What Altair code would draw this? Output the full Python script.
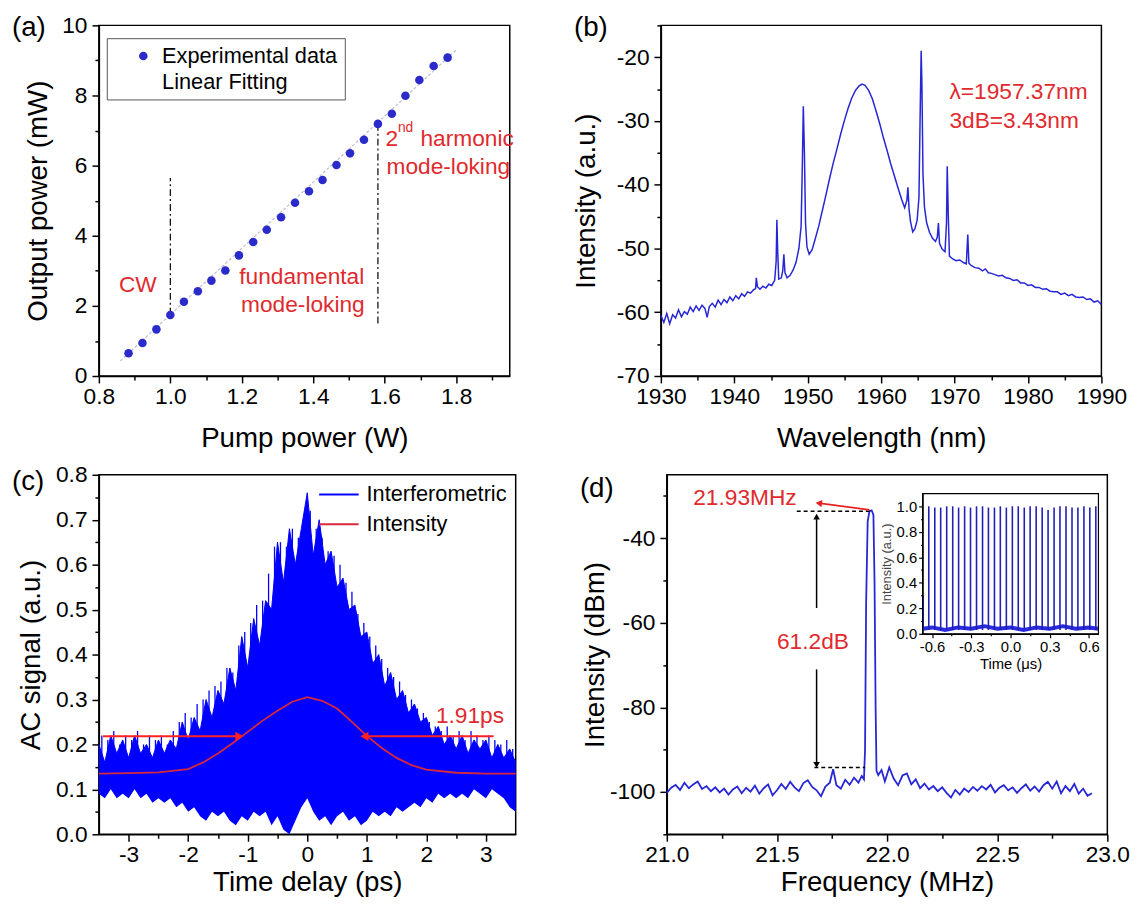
import altair as alt
import pandas as pd

FONT = "Liberation Sans"
W_A, W_C, W_R = 416, 422, 446
H1, H2 = 355, 364
TICK_FS = 23
TITLE_FS = 28
NOTE_FS = 23
BLUE = "#2626d6"
DOT = "#2b2bcc"
RED = "#e02a2e"

# ---------------- (a) output power vs pump power ----------------
pump_W = [0.883, 0.922, 0.961, 1.000, 1.038, 1.077, 1.115, 1.154, 1.192, 1.232, 1.270, 1.310,
          1.349, 1.388, 1.426, 1.465, 1.503, 1.542, 1.581, 1.620, 1.658, 1.697, 1.737, 1.776]
out_mW = [0.65, 0.94, 1.33, 1.74, 2.12, 2.42, 2.72, 3.01, 3.44, 3.82, 4.17, 4.53,
          4.94, 5.27, 5.59, 6.02, 6.35, 6.74, 7.19, 7.48, 7.99, 8.44, 8.84, 9.08]
fit_pump = [0.86, 1.80]
fit_out = [0.43, 9.30]
regime_pump = [1.000, 1.581]
regime_low = [1.75, 1.50]
regime_high = [5.65, 7.15]
a_legend = ["Experimental data", "Linear Fitting"]
a_notes = ["CW", "fundamental", "mode-loking", "2", "harmonic", "mode-loking"]
a_note_x = [0.856, 1.193, 1.198, 1.602, 1.700, 1.605]
a_note_y = [2.58, 2.81, 2.02, 6.77, 6.77, 5.96]
a_sup = ["nd"]
a_sup_x = [1.637]
a_sup_y = [7.07]
a_x_domain = [0.8, 1.95]
a_y_domain = [0, 10]
a_x_major = [0.8, 1.0, 1.2, 1.4, 1.6, 1.8]
a_x_labels = ["0.8", "1.0", "1.2", "1.4", "1.6", "1.8"]
a_x_minor = [0.9, 1.1, 1.3, 1.5, 1.7, 1.9]
a_y_major = [0, 2, 4, 6, 8, 10]
a_y_labels = ["0", "2", "4", "6", "8", "10"]
a_y_minor = [1, 3, 5, 7, 9]

# ---------------- (b) optical spectrum ----------------
b_wl = [1930.0, 1930.4, 1930.8, 1931.2, 1931.6, 1932.0, 1932.4, 1932.8, 1933.2, 1933.6,
        1934.0, 1934.4, 1934.8, 1935.2, 1935.6, 1936.0, 1936.3, 1936.6, 1937.0, 1937.4,
        1937.8, 1938.2, 1938.6, 1939.0, 1939.4, 1939.8, 1940.2, 1940.6, 1941.0, 1941.4,
        1941.8, 1942.2, 1942.6, 1942.9, 1943.0, 1943.15, 1943.5, 1943.9, 1944.3, 1944.7,
        1945.1, 1945.5, 1945.7, 1945.8, 1945.9, 1946.05, 1946.4, 1946.6, 1946.75, 1946.9,
        1947.2, 1947.6, 1948.0, 1948.4, 1948.8, 1949.1, 1949.25, 1949.4, 1949.55, 1949.7,
        1949.9, 1950.2, 1950.6, 1951.0, 1951.5, 1952.0, 1952.5, 1953.0, 1953.5, 1954.0,
        1954.5, 1955.0, 1955.5, 1956.0, 1956.5, 1957.0, 1957.4, 1957.8, 1958.3, 1958.8,
        1959.3, 1959.8, 1960.3, 1960.8, 1961.3, 1961.8, 1962.3, 1962.8, 1963.2, 1963.5,
        1963.65, 1963.8, 1964.0, 1964.3, 1964.6, 1964.9, 1965.15, 1965.3, 1965.45, 1965.55,
        1965.7, 1965.9, 1966.2, 1966.6, 1967.0, 1967.4, 1967.65, 1967.8, 1967.95, 1968.3,
        1968.7, 1968.9, 1969.0, 1969.15, 1969.3, 1969.7, 1970.2, 1970.7, 1971.2, 1971.6,
        1971.8, 1971.95, 1972.3, 1972.8, 1973.3, 1973.8, 1974.2, 1974.6, 1975.0, 1975.5,
        1976.0, 1976.5, 1977.0, 1977.5, 1978.0, 1978.5, 1979.0, 1979.5, 1980.0, 1980.5,
        1981.0, 1981.5, 1982.0, 1982.5, 1983.0, 1983.5, 1984.0, 1984.5, 1985.0, 1985.5,
        1986.0, 1986.5, 1987.0, 1987.5, 1988.0, 1988.5, 1989.0, 1989.5, 1990.0]
b_int = [-60.5, -61.6, -60.2, -61.8, -60.4, -60.9, -59.6, -60.7, -59.9, -60.3,
         -59.2, -59.9, -59.0, -59.7, -58.9, -59.4, -60.8, -59.1, -58.6, -59.2,
         -58.1, -58.8, -58.0, -58.5, -57.6, -58.2, -57.4, -57.9, -57.1, -57.5,
         -56.8, -57.0, -56.5, -56.3, -54.6, -56.0, -56.4, -55.9, -56.2, -55.6,
         -55.8, -55.0, -52.0, -45.5, -50.0, -54.8, -54.6, -53.5, -50.9, -53.8,
         -54.6, -54.2, -53.4, -52.2, -50.0, -46.5, -38.0, -27.7, -35.0, -46.0,
         -49.8, -50.9, -50.2, -48.6, -46.5, -44.0, -41.5, -38.9, -36.5, -34.3,
         -32.0, -29.9, -28.0, -26.4, -25.2, -24.5, -24.2, -24.4, -25.2, -26.5,
         -28.4, -30.4, -32.6, -34.6, -36.7, -38.6, -40.5, -42.3, -43.6, -42.5,
         -40.4, -43.8, -45.8, -47.4, -46.9, -45.6, -42.0, -30.0, -19.0, -24.0,
         -38.4, -43.5, -46.0, -47.5, -48.4, -48.9, -48.2, -46.0, -49.2, -50.1,
         -50.5, -46.0, -37.1, -45.0, -51.2, -51.6, -51.9, -51.8, -52.2, -52.4,
         -47.8, -52.3, -52.7, -53.0, -53.1, -53.5, -53.2, -53.8, -53.9, -54.1,
         -54.3, -54.2, -54.6, -54.7, -55.0, -54.9, -55.4, -55.4, -55.8, -55.7,
         -56.1, -56.1, -56.4, -56.3, -56.7, -56.8, -56.8, -57.2, -57.0, -57.4,
         -57.2, -57.6, -57.7, -57.6, -58.0, -57.9, -58.4, -58.2, -58.8]
b_notes = ["\u03bb=1957.37nm", "3dB=3.43nm"]
b_note_x = [1969.3, 1969.3]
b_note_y = [-25.4, -30.0]
b_x_domain = [1930, 1990]
b_y_domain = [-70, -15]
b_x_major = [1930, 1940, 1950, 1960, 1970, 1980, 1990]
b_x_labels = ["1930", "1940", "1950", "1960", "1970", "1980", "1990"]
b_x_minor = [1935, 1945, 1955, 1965, 1975, 1985]
b_y_major = [-70, -60, -50, -40, -30, -20]
b_y_labels = ["-70", "-60", "-50", "-40", "-30", "-20"]
b_y_minor = [-65, -55, -45, -35, -25, -15]

# ---------------- (c) autocorrelation ----------------
c_t = [-3.5, -3.4, -3.3, -3.2, -3.1, -3.0, -2.9, -2.8, -2.7, -2.6,
       -2.5, -2.4, -2.3, -2.2, -2.1, -2.0, -1.9, -1.8, -1.7, -1.6,
       -1.5, -1.4, -1.3, -1.2, -1.1, -1.0, -0.9, -0.8, -0.7, -0.6,
       -0.5, -0.4, -0.3, -0.2, -0.1, 0.0, 0.1, 0.2, 0.3, 0.4,
       0.5, 0.6, 0.7, 0.8, 0.9, 1.0, 1.1, 1.2, 1.3, 1.4,
       1.5, 1.6, 1.7, 1.8, 1.9, 2.0, 2.1, 2.2, 2.3, 2.4,
       2.5, 2.6, 2.7, 2.8, 2.9, 3.0, 3.1, 3.2, 3.3, 3.4,
       3.5]
c_upper = [0.20, 0.16, 0.22, 0.18, 0.21, 0.17, 0.22, 0.18, 0.20, 0.17,
           0.21, 0.18, 0.21, 0.19, 0.25, 0.21, 0.26, 0.23, 0.30, 0.26,
           0.32, 0.29, 0.37, 0.32, 0.44, 0.37, 0.48, 0.42, 0.52, 0.50,
           0.65, 0.56, 0.68, 0.60, 0.68, 0.76, 0.62, 0.70, 0.60, 0.63,
           0.55, 0.57, 0.50, 0.51, 0.44, 0.45, 0.38, 0.40, 0.33, 0.36,
           0.30, 0.32, 0.27, 0.29, 0.25, 0.26, 0.22, 0.24, 0.20, 0.22,
           0.19, 0.22, 0.18, 0.21, 0.19, 0.21, 0.17, 0.20, 0.17, 0.19,
           0.16]
c_lower = [0.09, 0.08, 0.10, 0.08, 0.09, 0.08, 0.10, 0.08, 0.09, 0.07,
           0.08, 0.07, 0.08, 0.06, 0.07, 0.05, 0.06, 0.04, 0.03, 0.05,
           0.04, 0.05, 0.03, 0.02, 0.04, 0.03, 0.05, 0.04, 0.05, 0.02,
           0.04, 0.01, 0.00, 0.03, 0.06, 0.08, 0.05, 0.03, 0.04, 0.02,
           0.04, 0.05, 0.03, 0.04, 0.02, 0.03, 0.05, 0.04, 0.05, 0.04,
           0.06, 0.05, 0.06, 0.07, 0.06, 0.08, 0.07, 0.09, 0.08, 0.09,
           0.08, 0.09, 0.08, 0.10, 0.09, 0.08, 0.10, 0.09, 0.08, 0.06,
           0.05]
# narrow fringe spikes standing above the filled envelope
c_spike_t = [-3.45, -3.35, -3.25, -3.15, -3.05, -2.95, -2.85, -2.75, -2.65, -2.55,
             -2.45, -2.35, -2.25, -2.15, -2.05, -1.95, -1.85, -1.75, -1.65, -1.55,
             -1.45, -1.35, -1.25, -1.15, -1.05, -0.95, -0.85, -0.75, -0.65, -0.55,
             -0.45, -0.35, -0.25, -0.15, -0.05, 0.05, 0.15, 0.25, 0.35, 0.45,
             0.55, 0.65, 0.75, 0.85, 0.95, 1.05, 1.15, 1.25, 1.35, 1.45,
             1.55, 1.65, 1.75, 1.85, 1.95, 2.05, 2.15, 2.25, 2.35, 2.45,
             2.55, 2.65, 2.75, 2.85, 2.95, 3.05, 3.15, 3.25, 3.35, 3.45]
c_spike_v = [0.22, 0.21, 0.23, 0.20, 0.22, 0.21, 0.23, 0.20, 0.22, 0.21,
             0.22, 0.20, 0.23, 0.25, 0.27, 0.26, 0.29, 0.30, 0.32, 0.33,
             0.34, 0.37, 0.36, 0.42, 0.45, 0.47, 0.51, 0.52, 0.58, 0.64,
             0.65, 0.64, 0.68, 0.66, 0.70, 0.72, 0.68, 0.66, 0.63, 0.62,
             0.60, 0.56, 0.54, 0.49, 0.47, 0.44, 0.42, 0.39, 0.37, 0.35,
             0.34, 0.31, 0.30, 0.28, 0.27, 0.25, 0.24, 0.23, 0.24, 0.22,
             0.23, 0.21, 0.23, 0.22, 0.21, 0.22, 0.21, 0.20, 0.21, 0.19]
c_int_t = [-3.5, -3.0, -2.5, -2.0, -1.75, -1.5, -1.25, -1.0, -0.75, -0.5, -0.25, 0.0,
           0.25, 0.5, 0.75, 1.0, 1.25, 1.5, 1.75, 2.0, 2.5, 3.0, 3.5]
c_int_v = [0.135, 0.136, 0.138, 0.145, 0.160, 0.180, 0.203, 0.228, 0.253, 0.275, 0.295, 0.305,
           0.297, 0.280, 0.250, 0.219, 0.192, 0.170, 0.154, 0.144, 0.137, 0.135, 0.135]
c_legend = ["Interferometric", "Intensity"]
c_arrow_from = [-3.43, 3.13]
c_arrow_to = [-1.20, 1.02]
c_arrow_level = [0.218, 0.218]
c_head_x = [-1.14, 0.96]
c_head_shape = ["triangle-right", "triangle-left"]
c_notes = ["1.91ps"]
c_note_x = [2.16]
c_note_y = [0.262]
c_x_domain = [-3.5, 3.5]
c_y_domain = [0, 0.8]
c_x_major = [-3, -2, -1, 0, 1, 2, 3]
c_x_labels = ["-3", "-2", "-1", "0", "1", "2", "3"]
c_x_minor = [-2.5, -1.5, -0.5, 0.5, 1.5, 2.5]
c_y_major = [0.0, 0.1, 0.2, 0.3, 0.4, 0.5, 0.6, 0.7, 0.8]
c_y_labels = ["0.0", "0.1", "0.2", "0.3", "0.4", "0.5", "0.6", "0.7", "0.8"]
c_y_minor = [0.05, 0.15, 0.25, 0.35, 0.45, 0.55, 0.65, 0.75]

# ---------------- (d) RF spectrum ----------------
d_f = [21.00, 21.02, 21.04, 21.06, 21.08, 21.10, 21.12, 21.14, 21.16, 21.18,
       21.20, 21.22, 21.24, 21.26, 21.28, 21.30, 21.32, 21.34, 21.36, 21.38,
       21.40, 21.42, 21.44, 21.46, 21.48, 21.50, 21.52, 21.54, 21.56, 21.58,
       21.60, 21.62, 21.64, 21.66, 21.68, 21.70, 21.72, 21.74, 21.755, 21.77,
       21.79, 21.81, 21.83, 21.85, 21.87, 21.885, 21.895, 21.900, 21.905, 21.912,
       21.920, 21.930, 21.938, 21.943, 21.948, 21.952, 21.96, 21.975, 21.99, 22.01,
       22.03, 22.05, 22.07, 22.09, 22.11, 22.13, 22.15, 22.17, 22.19, 22.21,
       22.23, 22.25, 22.27, 22.29, 22.31, 22.33, 22.35, 22.37, 22.39, 22.41,
       22.43, 22.45, 22.47, 22.49, 22.51, 22.53, 22.55, 22.57, 22.59, 22.61,
       22.63, 22.65, 22.67, 22.69, 22.71, 22.73, 22.75, 22.77, 22.79, 22.81,
       22.83, 22.85, 22.87, 22.89, 22.91, 22.93]
d_p = [-100.2, -99.0, -98.3, -99.5, -97.8, -99.1, -98.2, -97.5, -99.3, -98.6,
       -99.8, -98.9, -100.1, -99.2, -100.6, -99.4, -98.7, -100.3, -99.0, -99.9,
       -98.5, -100.4, -99.1, -98.2, -100.8, -99.6, -98.1, -99.3, -97.6, -98.9,
       -99.8, -97.9, -97.2, -98.8, -99.6, -101.0, -98.7, -97.8, -94.6, -98.4,
       -99.2, -97.1, -98.3, -96.6, -97.8, -96.2, -97.0, -90.0, -55.0, -36.0,
       -33.6, -33.4, -34.5, -50.0, -80.0, -95.0, -96.0, -94.8, -97.5, -94.2,
       -96.8, -98.4, -96.1, -95.6, -98.2, -97.0, -99.1, -98.0, -99.4, -98.6,
       -99.8, -98.9, -100.2, -101.3, -99.5, -100.6, -99.2, -100.0, -98.8, -99.7,
       -98.6, -99.4, -98.3, -100.1, -99.0, -98.4, -99.6, -98.9, -100.2, -99.1,
       -98.2, -99.7, -98.7, -99.9, -98.4, -97.6, -99.2, -97.5, -100.3, -98.6,
       -99.8, -98.1, -100.4, -99.2, -100.9, -100.3]
d_dash_from = [21.59, 21.67]
d_dash_to = [21.93, 21.90]
d_dash_level = [-33.6, -94.2]
d_span_x = [21.68, 21.68]
d_span_top = [-35.5, -71.0]
d_span_bottom = [-56.5, -93.0]
d_span_head_y = [-34.9, -93.6]
d_span_head_shape = ["triangle-up", "triangle-down"]
d_peak_arrow = [[21.92, -33.3], [21.69, -31.7]]
d_notes = ["21.93MHz", "61.2dB"]
d_note_x = [21.12, 21.50]
d_note_y = [-30.4, -64.5]
d_x_domain = [21, 23]
d_y_domain = [-110, -25]
d_x_major = [21.0, 21.5, 22.0, 22.5, 23.0]
d_x_labels = ["21.0", "21.5", "22.0", "22.5", "23.0"]
d_x_minor = [21.25, 21.75, 22.25, 22.75]
d_y_major = [-100, -80, -60, -40]
d_y_labels = ["-100", "-80", "-60", "-40"]
d_y_minor = [-110, -90, -70, -50, -30]

# inset: pulse train
inset_pulse_t = [-0.668, -0.625, -0.579, -0.534, -0.488, -0.442, -0.397, -0.351, -0.306, -0.260,
                 -0.214, -0.169, -0.123, -0.078, -0.032, 0.014, 0.059, 0.105, 0.150, 0.196,
                 0.242, 0.287, 0.333, 0.378, 0.424, 0.470, 0.515, 0.561, 0.606, 0.652]
inset_pulse_h = [0.30, 1.00, 0.99, 0.99, 1.00, 1.00, 0.99, 1.00, 0.99, 1.00,
                 1.00, 0.99, 0.99, 1.00, 0.99, 1.00, 1.00, 0.99, 1.00, 1.00,
                 0.99, 0.97, 0.99, 1.00, 1.00, 0.99, 0.99, 1.00, 0.99, 1.00]
inset_base_t = [-0.672, -0.6, -0.5, -0.4, -0.3, -0.2, -0.1, 0.0, 0.1, 0.2, 0.3, 0.4, 0.5, 0.6, 0.672]
inset_base_v = [0.04, 0.05, 0.03, 0.05, 0.04, 0.06, 0.04, 0.05, 0.03, 0.05, 0.04, 0.06, 0.04, 0.05, 0.04]
inset_t_domain = [-0.672, 0.672]
inset_v_domain = [0, 1.1]
inset_x_major = [-0.6, -0.3, 0.0, 0.3, 0.6]
inset_x_labels = ["-0.6", "-0.3", "0.0", "0.3", "0.6"]
inset_x_minor = [-0.45, -0.15, 0.15, 0.45]
inset_y_major = [0.0, 0.2, 0.4, 0.6, 0.8, 1.0]
inset_y_labels = ["0.0", "0.2", "0.4", "0.6", "0.8", "1.0"]
inset_y_minor = [0.1, 0.3, 0.5, 0.7, 0.9]
# inset placement inside panel (d), in pixels of that panel
INSET_X = [259, 437]
INSET_Y = [161, 19]


def axis(title, major, labels, minor, title_pad, orient, label_fs=TICK_FS, title_fs=TITLE_FS,
         big=7, small=4, offset=0, label_pad=5, width=1.5, title_color="black"):
    values = sorted(major + minor)
    expr = "".join(f"datum.value == {v} ? '{l}' : " for v, l in zip(major, labels)) + "''"
    test = " || ".join(f"datum.value == {v}" for v in major)
    return alt.Axis(
        title=title, orient=orient, values=values, labelExpr=expr,
        tickSize={"condition": {"test": test, "value": big}, "value": small},
        tickWidth=width, tickColor="black", domainColor="black", domainWidth=width,
        labelFont=FONT, labelFontSize=label_fs, labelColor="black", labelPadding=label_pad,
        labelFlush=False, labelOverlap=False, grid=False,
        titleFont=FONT, titleFontSize=title_fs, titleFontWeight="normal", titleColor=title_color,
        titlePadding=title_pad, offset=offset)


def qscale(dom, rng=None):
    if rng is None:
        return alt.Scale(domain=dom, nice=False, zero=False)
    return alt.Scale(domain=dom, range=rng, nice=False, zero=False)


def panel_label(txt, dy):
    return alt.Chart(pd.DataFrame({"t": [txt]})).mark_text(
        font=FONT, fontSize=28, align="left", baseline="middle", color="black"
    ).encode(x=alt.value(-88), y=alt.value(dy), text="t:N")


def notes(xs, ys, texts, size=NOTE_FS, color=RED, X=None, Y=None, align="left"):
    df = pd.DataFrame({"x": xs, "y": ys, "t": texts})
    return alt.Chart(df).mark_text(font=FONT, fontSize=size, align=align, baseline="middle",
                                   color=color).encode(x=X, y=Y, text="t:N")


# ---------- panel (a) ----------
XA = alt.X("x:Q", scale=qscale(a_x_domain),
           axis=axis("Pump power (W)", a_x_major, a_x_labels, a_x_minor, 16, "bottom", label_pad=3))
YA = alt.Y("y:Q", scale=qscale(a_y_domain),
           axis=axis("Output power (mW)", a_y_major, a_y_labels, a_y_minor, 9, "left"))

a_fit = alt.Chart(pd.DataFrame({"x": fit_pump, "y": fit_out})).mark_line(
    color="#bcbcd0", strokeWidth=1.2, strokeDash=[3, 2]).encode(x=XA, y=YA)
a_pts = alt.Chart(pd.DataFrame({"x": pump_W, "y": out_mW, "s": [a_legend[0]] * len(pump_W)})).mark_point(
    filled=True, size=75, opacity=1).encode(
    x=XA, y=YA,
    color=alt.Color("s:N", scale=alt.Scale(domain=a_legend, range=[DOT, "#ffffff"]),
                    legend=alt.Legend(title=None, orient="none", legendX=8, legendY=13, padding=7,
                                      strokeColor="#555555", fillColor="white", symbolType="circle",
                                      symbolSize=75, symbolOffset=19, labelOffset=8, labelFont=FONT,
                                      labelFontSize=22, labelColor="black", rowPadding=4,
                                      labelLimit=400, symbolStrokeWidth=0)))
a_reg = alt.Chart(pd.DataFrame({"x": regime_pump, "y": regime_low, "y2": regime_high})).mark_rule(
    color="black", strokeWidth=1.2, strokeDash=[7, 3, 2, 3]).encode(x=XA, y=YA, y2="y2:Q")
a_txt = notes(a_note_x, a_note_y, a_notes, X=XA, Y=YA)
a_sup_txt = notes(a_sup_x, a_sup_y, a_sup, size=14, X=XA, Y=YA)
pa = alt.layer(a_fit, a_reg, a_pts, a_txt, a_sup_txt, panel_label("(a)", 3)).properties(width=W_A, height=H1)

# ---------- panel (b) ----------
XB = alt.X("x:Q", scale=qscale(b_x_domain),
           axis=axis("Wavelength (nm)", b_x_major, b_x_labels, b_x_minor, 16, "bottom", label_pad=3))
YB = alt.Y("y:Q", scale=qscale(b_y_domain),
           axis=axis("Intensity (a.u.)", b_y_major, b_y_labels, b_y_minor, 16, "left"))
b_line = alt.Chart(pd.DataFrame({"x": b_wl, "y": b_int})).mark_line(
    color=BLUE, strokeWidth=1.5).encode(x=XB, y=YB)
b_txt = notes(b_note_x, b_note_y, b_notes, X=XB, Y=YB)
pb = alt.layer(b_line, b_txt, panel_label("(b)", 3)).properties(width=W_R, height=H1)

# ---------- panel (c) ----------
XC = alt.X("x:Q", scale=qscale(c_x_domain),
           axis=axis("Time delay (ps)", c_x_major, c_x_labels, c_x_minor, 2, "bottom", label_pad=3))
YC = alt.Y("y:Q", scale=qscale(c_y_domain),
           axis=axis("AC signal (a.u.)", c_y_major, c_y_labels, c_y_minor, 10, "left"))
c_color = alt.Color("s:N", scale=alt.Scale(domain=c_legend, range=["#0000ff", "#d8283c"]),
                    legend=alt.Legend(title=None, orient="none", legendX=232, legendY=9, padding=0,
                                      symbolType="M-2,0L2,0", symbolSize=400, symbolStrokeWidth=2,
                                      labelOffset=17, labelFont=FONT, labelFontSize=22,
                                      labelColor="black", rowPadding=8, labelLimit=400))
c_df = pd.DataFrame({"x": c_t, "y": c_upper, "lo": c_lower, "s": [c_legend[0]] * len(c_t)})
c_area = alt.Chart(c_df).mark_area(color="#0000ff", opacity=1).encode(x=XC, y=YC, y2="lo:Q")
c_top = alt.Chart(c_df).mark_line(strokeWidth=1).encode(x=XC, y=YC, color=c_color)
c_spk = alt.Chart(pd.DataFrame({"x": c_spike_t, "y": [0.12] * len(c_spike_t), "y2": c_spike_v})).mark_rule(
    color="#0000ff", strokeWidth=1.3).encode(x=XC, y=YC, y2="y2:Q")
c_int = alt.Chart(pd.DataFrame({"x": c_int_t, "y": c_int_v, "s": [c_legend[1]] * len(c_int_t)})).mark_line(
    strokeWidth=1.8).encode(x=XC, y=YC, color=c_color)
c_arr = alt.Chart(pd.DataFrame({"x": c_arrow_from, "x2": c_arrow_to, "y": c_arrow_level})).mark_rule(
    color="#ff2222", strokeWidth=2).encode(x=XC, x2="x2:Q", y=YC)
c_heads = alt.Chart(pd.DataFrame({"x": c_head_x, "y": c_arrow_level, "sh": c_head_shape})).mark_point(
    filled=True, size=90, color="#ff2222", opacity=1).encode(x=XC, y=YC, shape=alt.Shape("sh:N", scale=None))
c_txt = notes(c_note_x, c_note_y, c_notes, X=XC, Y=YC)
pc = alt.layer(c_area, c_spk, c_top, c_int, c_arr, c_heads, c_txt, panel_label("(c)", 7)).properties(
    width=W_C, height=H2)

# ---------- panel (d) ----------
XD = alt.X("x:Q", scale=qscale(d_x_domain),
           axis=axis("Frequency (MHz)", d_x_major, d_x_labels, d_x_minor, 2, "bottom", label_pad=3))
YD = alt.Y("y:Q", scale=qscale(d_y_domain),
           axis=axis("Intensity (dBm)", d_y_major, d_y_labels, d_y_minor, 0, "left"))
d_line = alt.Chart(pd.DataFrame({"x": d_f, "y": d_p})).mark_line(
    color=BLUE, strokeWidth=1.8).encode(x=XD, y=YD)
d_dash = alt.Chart(pd.DataFrame({"x": d_dash_from, "x2": d_dash_to, "y": d_dash_level})).mark_rule(
    color="black", strokeWidth=1.5, strokeDash=[4, 3]).encode(x=XD, x2="x2:Q", y=YD)
d_span = alt.Chart(pd.DataFrame({"x": d_span_x, "y": d_span_top, "y2": d_span_bottom})).mark_rule(
    color="black", strokeWidth=1.5).encode(x=XD, y=YD, y2="y2:Q")
d_span_heads = alt.Chart(pd.DataFrame({"x": d_span_x, "y": d_span_head_y, "sh": d_span_head_shape})).mark_point(
    filled=True, size=45, color="black", opacity=1).encode(x=XD, y=YD, shape=alt.Shape("sh:N", scale=None))
d_pa = alt.Chart(pd.DataFrame({"x": [d_peak_arrow[0][0]], "y": [d_peak_arrow[0][1]],
                               "x2": [d_peak_arrow[1][0]], "y2": [d_peak_arrow[1][1]]})).mark_rule(
    color="#e52020", strokeWidth=1.6).encode(x=XD, y=YD, x2="x2:Q", y2="y2:Q")
d_pa_head = alt.Chart(pd.DataFrame({"x": [d_peak_arrow[1][0]], "y": [d_peak_arrow[1][1]]})).mark_point(
    filled=True, size=55, color="#e52020", shape="triangle-left", angle=8, opacity=1).encode(x=XD, y=YD)
d_txt = notes(d_note_x, d_note_y, d_notes, X=XD, Y=YD)
d_main = alt.layer(d_line, d_dash, d_span, d_span_heads, d_pa, d_pa_head, d_txt, panel_label("(d)", 14))

XI = alt.X("t:Q", scale=qscale(inset_t_domain, INSET_X),
           axis=axis("Time (\u03bcs)", inset_x_major, inset_x_labels, inset_x_minor, 2, "bottom",
                     label_fs=15, title_fs=15, big=4, small=2, offset=INSET_Y[0] - H2, label_pad=2,
                     width=1.2))
YI = alt.Y("v:Q", scale=qscale(inset_v_domain, INSET_Y),
           axis=axis("Intensity (a.u.)", inset_y_major, inset_y_labels, inset_y_minor, 3, "left",
                     label_fs=15, title_fs=13, big=4, small=2, offset=-INSET_X[0], label_pad=2,
                     width=1.2, title_color="#444444"))
i_pulses = alt.Chart(pd.DataFrame({"t": inset_pulse_t, "v": [0.03] * len(inset_pulse_t),
                                   "v2": inset_pulse_h})).mark_rule(
    color="#2020b4", strokeWidth=1.6).encode(x=XI, y=YI, y2="v2:Q")
i_base = alt.Chart(pd.DataFrame({"t": inset_base_t, "v": inset_base_v})).mark_line(
    color="#2a2ae0", strokeWidth=4).encode(x=XI, y=YI)
i_frame = alt.Chart(pd.DataFrame({"t": [inset_t_domain[0]], "t2": [inset_t_domain[1]],
                                  "v": [inset_v_domain[0]], "v2": [inset_v_domain[1]]})).mark_rect(
    fillOpacity=0, stroke="black", strokeWidth=1.2).encode(x=XI, x2="t2:Q", y=YI, y2="v2:Q")
d_inset = alt.layer(i_base, i_pulses, i_frame)

pd_ = alt.layer(d_main, d_inset).resolve_scale(x="independent", y="independent").properties(
    width=W_R, height=H2)

row1 = alt.hconcat(pa, pb, spacing=58).resolve_scale(color="independent")
row2 = alt.hconcat(pc, pd_, spacing=59).resolve_scale(color="independent")
chart = alt.vconcat(row1, row2, spacing=10).resolve_scale(color="independent").configure_view(
    stroke="black", strokeWidth=1.5).properties(padding={"left": 3, "top": 0, "right": 3, "bottom": 3},
                                                background="white")

chart.save("out.html", embed_options={"renderer": "svg", "actions": False})
